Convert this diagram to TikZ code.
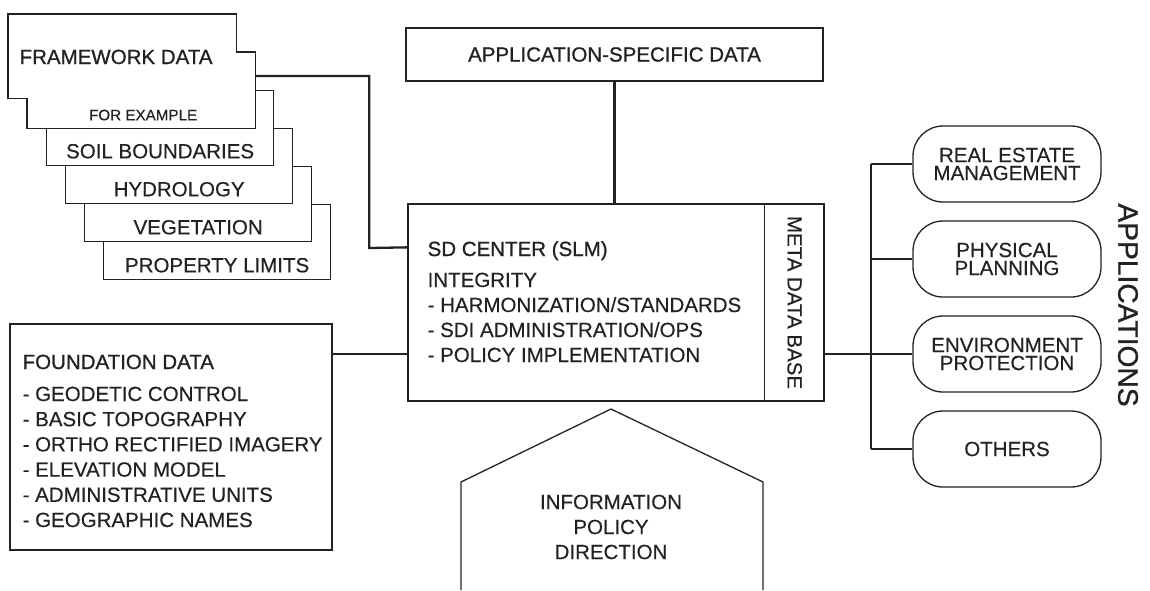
\documentclass[tikz,border=0pt]{standalone}
\usepackage{fontspec}
\setmainfont{Liberation Sans}[FakeBold=0.35]
\newfontfamily\headfont{Liberation Sans}[FakeBold=0.9]
\tikzset{
every picture/.style={
line width=0.65pt
}}
\usepackage{tikz}
\usetikzlibrary{positioning, calc}
\definecolor{ink}{HTML}{222222}
\tikzset{
  sheet/.style={draw=ink, fill=white, inner sep=0pt, anchor=north west,
    minimum width=113.5pt, minimum height=37.5pt},
  box/.style={draw=ink, fill=white, inner sep=0pt},
  txt/.style={inner sep=0pt, font=\fontsize{10.25}{12.5}\selectfont},
  head/.style={txt, font=\headfont\fontsize{10.25}{12.5}\selectfont},
  app/.style={draw=ink, rounded corners=15pt, inner sep=0pt, align=center,
    minimum width=94pt, minimum height=38pt, font=\fontsize{10.25}{9}\selectfont},
  link/.style={draw=ink, line width=1.15pt}
}

\begin{document}
\begin{tikzpicture}[x=0.5pt, y=-0.5pt, every node/.append style={text=ink}]
  \useasboundingbox (0,0) rectangle (1150,590);

  % sheets behind the framework data, back to front
  \foreach \t [count=\i, evaluate=\i as \k using int(6-\i)] in {PROPERTY LIMITS, VEGETATION, HYDROLOGY, SOIL BOUNDARIES} {
    \node [sheet] (s\k) at ({8+19*\k}, {14+38*\k}) {};
    \node [txt, anchor=base] (t\k) at ($(s\k.south)+(0,-8)$) {\t};
  }

  % framework data (two pages, one outline)
  \path (8,14) node [sheet, draw=none, minimum height=41.5pt] (fw) {}
        (27,52) node [sheet, draw=none] (ex) {};
  \draw [ink, fill=white] (fw.north west) -- (fw.north east) -- (fw.north east |- ex.north)
    -- (ex.north east) -- (ex.south east) -- (ex.south west)
    -- (ex.south west |- fw.south) -- (fw.south west) -- cycle;
  \node [head, anchor=base west] (fwt) at (19,64) {FRAMEWORK DATA};
  \node [txt, anchor=base, font=\fontsize{7.6}{9}\selectfont] (ext) at ($(ex.south)+(2,-8)$) {FOR EXAMPLE};
  \coordinate (fwout) at ($(ex.north east)+(0,24)$);

  % application-specific data
  \node [box, head, minimum width=208.5pt, minimum height=26.5pt] (asd) at (614.5,54.5) {APPLICATION-SPECIFIC DATA};

  % sd center with meta data base
  \node [box, minimum width=208pt, minimum height=98.5pt] (sd) at (616,302.5) {};
  \draw [ink] ($(sd.north east)+(-60,0)$) -- ($(sd.south east)+(-60,0)$);
  \node [txt, rotate=-90] (meta) at ($(sd.east)+(-30,0)$) {META DATA BASE};
  \node [head, anchor=base west] (sdt) at (427,256) {SD CENTER (SLM)};
  \foreach \t [count=\i] in {INTEGRITY, {- HARMONIZATION/STANDARDS}, {- SDI ADMINISTRATION/OPS}, {- POLICY IMPLEMENTATION}}
    \node [txt, anchor=base west] (sd\i) at (427, {262+25*\i}) {\t};

  % foundation data
  \node [box, minimum width=161pt, minimum height=113pt] (fd) at (171,437) {};
  \node [head, anchor=base west] (fdt) at (22,369) {FOUNDATION DATA};
  \foreach \t [count=\i] in {GEODETIC CONTROL, BASIC TOPOGRAPHY, ORTHO RECTIFIED IMAGERY, ELEVATION MODEL, ADMINISTRATIVE UNITS, GEOGRAPHIC NAMES}
    \node [txt, anchor=base west] (fd\i) at (22, {375.8+25.2*\i}) {- \t};

  % applications
  \foreach \t [count=\i] in {{REAL ESTATE\\MANAGEMENT}, {PHYSICAL\\PLANNING}, {ENVIRONMENT\\PROTECTION}, OTHERS}
    \node [app] (app\i) at (1007, {69+95*\i}) {\t};
  \node [head, rotate=-90, font=\headfont\fontsize{14.1}{16}\selectfont] (apps) at (1128,305) {APPLICATIONS};

  % information policy direction
  \draw [ink] (461,590) -- (461,482) -- (611,409) -- (763,482) -- (763,590);
  \node [txt, align=center] (info) at (611,527) {INFORMATION\\POLICY\\DIRECTION};

  % connectors
  \coordinate (bus) at (871,0);
  \draw [link] (fwout) -| ++(114,172) -- ($(sd.north west)+(0,44)$);
  \draw [link] (asd.south) -- (asd.south |- sd.north);
  \draw [link] (fd.east |- app3) -- (sd.west |- app3);
  \draw [link] (sd.east |- app3) -- (app3.west);
  \draw [link] (app1.west -| bus) -- (app4.west -| bus);
  \foreach \i in {1,2,4}
    \draw [link] (app\i.west -| bus) -- (app\i.west);

\end{tikzpicture}
\end{document}
